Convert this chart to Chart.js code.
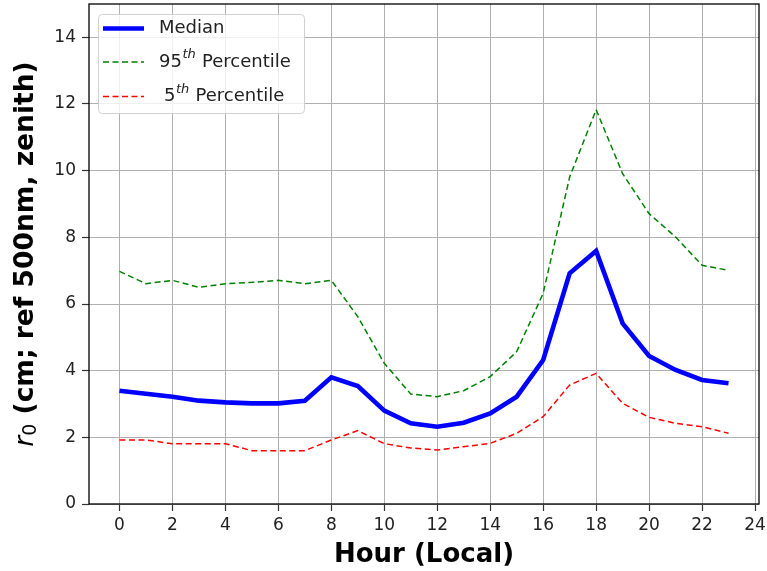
<!DOCTYPE html>
<html>
<head>
<meta charset="utf-8">
<script src="https://cdn.jsdelivr.net/npm/chart.js@4/dist/chart.umd.min.js"></script>
<style>
  html, body { margin: 0; padding: 0; background: #ffffff; }
  #wrap { width: 767px; height: 571px; position: relative; }
</style>
</head>
<body>
<div id="wrap"><canvas id="c"></canvas></div>
<script>
// ---- Data ----
const hours = [0,1,2,3,4,5,6,7,8,9,10,11,12,13,14,15,16,17,18,19,20,21,22,23];
const median = [3.40,3.31,3.22,3.10,3.05,3.02,3.02,3.10,3.80,3.54,2.80,2.42,2.32,2.44,2.72,3.22,4.32,6.92,7.59,5.42,4.44,4.02,3.72,3.62];
const p95 = [6.98,6.61,6.71,6.50,6.61,6.65,6.71,6.61,6.71,5.62,4.22,3.30,3.22,3.40,3.82,4.57,6.32,9.81,11.83,9.91,8.71,8.01,7.16,7.01];
const p5 = [1.92,1.92,1.81,1.81,1.81,1.60,1.60,1.60,1.92,2.20,1.81,1.68,1.62,1.72,1.82,2.12,2.62,3.57,3.92,3.02,2.60,2.42,2.32,2.12];
const xTicks = [0,2,4,6,8,10,12,14,16,18,20,22,24];
const yTicks = [0,2,4,6,8,10,12,14];
const seriesLabels = ['Median', '95th Percentile', '5th Percentile'];
const xTitle = 'Hour (Local)';
const yTitleRest = ' (cm; ref 500nm, zenith)';

function pts(vals) { return hours.map((h, i) => ({ x: h, y: vals[i] })); }

const FONT = "'DejaVu Sans', sans-serif";

// Frame around plot area (matplotlib spines)
const framePlugin = {
  id: 'frame',
  afterDatasetsDraw(chart) {
    const a = chart.chartArea, ctx = chart.ctx;
    ctx.save();
    ctx.strokeStyle = '#000000';
    ctx.lineWidth = 1.3;
    ctx.strokeRect(a.left, a.top, a.right - a.left, a.bottom - a.top);
    ctx.restore();
  }
};

// Y title with italic r and subscript 0
const yTitlePlugin = {
  id: 'ytitle',
  afterDraw(chart) {
    const a = chart.chartArea, ctx = chart.ctx;
    const cy = (a.top + a.bottom) / 2;
    ctx.save();
    ctx.translate(26, cy);
    ctx.rotate(-Math.PI / 2);
    ctx.textBaseline = 'middle';
    ctx.fillStyle = '#000000';
    const fR = 'italic 26.5px ' + FONT;
    const fSub = '19px ' + FONT;
    const fRest = 'bold 26.5px ' + FONT;
    ctx.font = fR; const wR = ctx.measureText('r').width;
    ctx.font = fSub; const wS = ctx.measureText('0').width;
    ctx.font = fRest; const wT = ctx.measureText(yTitleRest).width;
    let x = -(wR + wS + wT) / 2;
    ctx.textAlign = 'left';
    ctx.font = fR; ctx.fillText('r', x, 0); x += wR;
    ctx.font = fSub; ctx.fillText('0', x, 5); x += wS;
    ctx.font = fRest; ctx.fillText(yTitleRest, x, 0);
    ctx.restore();
  }
};

// Legend inside plot, upper left, with superscripts
const legendPlugin = {
  id: 'inlegend',
  afterDraw(chart) {
    const ctx = chart.ctx;
    const bx = 98, by = 14, bw = 206, bh = 99;
    ctx.save();
    ctx.fillStyle = 'rgba(255,255,255,0.8)';
    ctx.strokeStyle = 'rgba(204,204,204,0.9)';
    ctx.lineWidth = 1;
    ctx.beginPath();
    if (ctx.roundRect) ctx.roundRect(bx + 0.5, by + 0.5, bw, bh, 4); else ctx.rect(bx + 0.5, by + 0.5, bw, bh);
    ctx.fill(); ctx.stroke();
    const rows = [28.5, 62, 96.5];
    chart.data.datasets.forEach((ds, i) => {
      const y = rows[i];
      ctx.save();
      ctx.strokeStyle = ds.borderColor;
      ctx.lineWidth = ds.borderWidth;
      ctx.setLineDash(ds.borderDash || []);
      ctx.beginPath(); ctx.moveTo(103, y); ctx.lineTo(144, y); ctx.stroke();
      ctx.restore();
      ctx.fillStyle = '#222222';
      ctx.textBaseline = 'middle';
      ctx.textAlign = 'left';
      const label = seriesLabels[i];
      const m = label.match(/^(\d+)th (.*)$/);
      if (!m) {
        ctx.font = '18px ' + FONT;
        ctx.fillText(label, 159, y);
      } else {
        let x = i === 2 ? 164 : 159;
        ctx.font = '18px ' + FONT;
        ctx.fillText(m[1], x, y); x += ctx.measureText(m[1]).width;
        ctx.font = 'italic 13px ' + FONT;
        ctx.fillText('th', x + 0.5, y - 7); x += ctx.measureText('th').width + 1;
        ctx.font = '18px ' + FONT;
        ctx.fillText(' ' + m[2], x, y);
      }
    });
    ctx.restore();
  }
};

new Chart(document.getElementById('c'), {
  type: 'line',
  data: {
    datasets: [
      { label: seriesLabels[0], data: pts(median), borderColor: '#0000ff', borderWidth: 4.6, pointRadius: 0, fill: false, tension: 0 },
      { label: seriesLabels[1], data: pts(p95), borderColor: '#008000', borderWidth: 1.5, borderDash: [6, 3.5], pointRadius: 0, fill: false, tension: 0 },
      { label: seriesLabels[2], data: pts(p5), borderColor: '#ff0000', borderWidth: 1.5, borderDash: [6, 3.5], pointRadius: 0, fill: false, tension: 0 }
    ]
  },
  options: {
    responsive: true,
    maintainAspectRatio: false,
    animation: false,
    devicePixelRatio: 1,
    layout: { padding: { top: 4, right: 8, left: 0, bottom: 0 } },
    plugins: {
      legend: { display: false },
      tooltip: { enabled: false }
    },
    scales: {
      x: {
        type: 'linear',
        min: -1.15,
        max: 24.15,
        afterBuildTicks(s) { s.ticks = xTicks.map(v => ({ value: v })); },
        afterFit(s) { s.height = 67; s.paddingLeft = 0; s.paddingRight = 0; },
        ticks: { color: '#222222', font: { family: FONT, size: 17 }, padding: 4, maxRotation: 0, autoSkip: false,
                 callback: (v) => String(v) },
        grid: { color: '#b0b0b0', lineWidth: 1, drawTicks: true, tickLength: 7, tickColor: '#333333', tickWidth: 1.2 },
        border: { display: false },
        title: { display: true, text: xTitle, color: '#000000', font: { family: FONT, size: 26, weight: 'bold' }, padding: { top: 0, bottom: 0 } }
      },
      y: {
        type: 'linear',
        min: 0,
        max: 15,
        afterBuildTicks(s) { s.ticks = yTicks.map(v => ({ value: v })); },
        afterFit(s) { s.width = 89; s.paddingTop = 0; s.paddingBottom = 0; },
        ticks: { color: '#222222', font: { family: FONT, size: 17 }, padding: 6, autoSkip: false,
                 callback: (v) => String(v) },
        grid: { color: '#b0b0b0', lineWidth: 1, drawTicks: true, tickLength: 7, tickColor: '#333333', tickWidth: 1.2 },
        border: { display: false }
      }
    }
  },
  plugins: [framePlugin, yTitlePlugin, legendPlugin]
});
</script>
</body>
</html>
